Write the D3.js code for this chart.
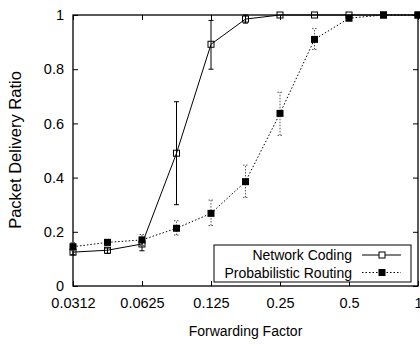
<!DOCTYPE html>
<html>
<head>
<meta charset="utf-8">
<script src="https://cdn.jsdelivr.net/npm/d3@7"></script>
<style>
  body { margin: 0; background: #fff; }
  text { font-family: "Liberation Sans", Arial, sans-serif; }
</style>
</head>
<body>
<div id="vis"></div>
<script>
// forwarding factors, 2^(-5 + k/2)
let factors = [0.03125, 0.0442, 0.0625, 0.0884, 0.125, 0.1768, 0.25, 0.3536, 0.5, 0.7071, 1];
let xTicks = [0.03125, 0.0625, 0.125, 0.25, 0.5, 1];
let xTickLabels = ["0.0312", "0.0625", "0.125", "0.25", "0.5", "1"];
let yTicks = [0, 0.2, 0.4, 0.6, 0.8, 1];

let ncValues = [0.125, 0.132, 0.155, 0.49, 0.892, 0.985, 1, 1, 1, 1, 1];
let ncLow    = [0.115, 0.12, 0.13, 0.30, 0.80, 0.97, 1, 1, 1, 1, 1];
let ncHigh   = [0.135, 0.14, 0.18, 0.68, 0.98, 1, 1, 1, 1, 1, 1];

let prValues = [0.145, 0.161, 0.17, 0.213, 0.268, 0.385, 0.637, 0.91, 0.988, 1, 1];
let prLow    = [0.13, 0.15, 0.15, 0.188, 0.223, 0.327, 0.556, 0.873, 0.98, 1, 1];
let prHigh   = [0.16, 0.172, 0.19, 0.241, 0.317, 0.446, 0.715, 0.95, 1, 1, 1];

let margin = { top: 15, left: 73, right: 2, bottom: 62 },
  W = 420, H = 348,
  width = W - margin.left - margin.right,
  height = H - margin.top - margin.bottom;

let svg = d3.select('#vis')
  .append('svg')
  .attr('width', W)
  .attr('height', H);

let g = svg.append('g')
  .attr('transform', `translate(${margin.left},${margin.top})`);

const x = d3.scaleLog().base(2)
  .domain([0.03125, 1])
  .range([0, width]);

const y = d3.scaleLinear()
  .domain([0, 1])
  .range([height, 0]);

// axes with inward ticks, mirrored on top and right
g.append('g')
  .attr('transform', `translate(0,${height})`)
  .call(d3.axisBottom(x).tickValues(xTicks).tickSizeInner(-5).tickSizeOuter(0)
    .tickFormat((d, i) => xTickLabels[i]).tickPadding(12));
g.append('g')
  .call(d3.axisTop(x).tickValues(xTicks).tickSizeInner(-5).tickSizeOuter(0).tickFormat(''));
g.append('g')
  .call(d3.axisLeft(y).tickValues(yTicks).tickSizeInner(-5).tickSizeOuter(0)
    .tickFormat(d3.format('~g')).tickPadding(9));
g.append('g')
  .attr('transform', `translate(${width},0)`)
  .call(d3.axisRight(y).tickValues(yTicks).tickSizeInner(-5).tickSizeOuter(0).tickFormat(''));

g.selectAll('.domain').remove();
g.selectAll('.tick line').attr('stroke', '#000');
g.selectAll('.tick text').style('font-size', '14.5px').attr('fill', '#000');

// border box
g.append('rect')
  .attr('x', 0).attr('y', 0)
  .attr('width', width).attr('height', height)
  .attr('fill', 'none')
  .attr('stroke', '#000')
  .attr('stroke-width', 1.3);

function drawSeries(vals, lo, hi, dash, filled) {
  let pts = factors.map((f, i) => ({ f: f, v: vals[i], lo: lo[i], hi: hi[i] }));
  let eb = g.append('g')
    .attr('stroke', dash ? '#555' : '#000')
    .attr('stroke-width', 1)
    .attr('stroke-dasharray', dash ? '1.5,1.5' : null);
  pts.filter(p => p.hi - p.lo > 0.001).forEach(p => {
    let cx = x(p.f);
    eb.append('line').attr('x1', cx).attr('x2', cx).attr('y1', y(p.lo)).attr('y2', y(p.hi));
    eb.append('line').attr('x1', cx - 2.5).attr('x2', cx + 2.5).attr('y1', y(p.lo)).attr('y2', y(p.lo));
    eb.append('line').attr('x1', cx - 2.5).attr('x2', cx + 2.5).attr('y1', y(p.hi)).attr('y2', y(p.hi));
  });

  g.append('path')
    .datum(pts)
    .attr('fill', 'none')
    .attr('stroke', '#000')
    .attr('stroke-width', 1)
    .attr('stroke-dasharray', dash ? '1.5,2' : null)
    .attr('d', d3.line().x(d => x(d.f)).y(d => y(d.v)));

  let s = filled ? 7 : 6;
  g.selectAll(null)
    .data(pts)
    .join('rect')
    .attr('x', d => x(d.f) - s / 2)
    .attr('y', d => y(d.v) - s / 2)
    .attr('width', s).attr('height', s)
    .attr('fill', filled ? '#000' : 'none')
    .attr('stroke', filled ? 'none' : '#000')
    .attr('stroke-width', 1);
}

drawSeries(ncValues, ncLow, ncHigh, false, false);
drawSeries(prValues, prLow, prHigh, true, true);

// legend
let lg = svg.append('g');
lg.append('rect')
  .attr('x', 214).attr('y', 245)
  .attr('width', 197).attr('height', 37)
  .attr('fill', '#fff')
  .attr('stroke', '#000')
  .attr('stroke-width', 1);

lg.append('text').attr('x', 352).attr('y', 260).attr('text-anchor', 'end')
  .style('font-size', '14px').text('Network Coding');
lg.append('line').attr('x1', 362).attr('x2', 401).attr('y1', 255).attr('y2', 255)
  .attr('stroke', '#000');
lg.append('rect').attr('x', 379).attr('y', 252).attr('width', 6).attr('height', 6)
  .attr('fill', '#fff').attr('stroke', '#000');

lg.append('text').attr('x', 352).attr('y', 277.5).attr('text-anchor', 'end')
  .style('font-size', '14px').text('Probabilistic Routing');
lg.append('line').attr('x1', 362).attr('x2', 401).attr('y1', 272.5).attr('y2', 272.5)
  .attr('stroke', '#000').attr('stroke-dasharray', '1.5,2');
lg.append('rect').attr('x', 378.5).attr('y', 269).attr('width', 7).attr('height', 7)
  .attr('fill', '#000');

// axis labels
svg.append('text')
  .attr('x', margin.left + width / 2)
  .attr('y', 336)
  .attr('text-anchor', 'middle')
  .style('font-size', '14px')
  .text('Forwarding Factor');

svg.append('text')
  .attr('transform', `translate(21,150) rotate(-90)`)
  .attr('text-anchor', 'middle')
  .style('font-size', '16.5px')
  .text('Packet Delivery Ratio');
</script>
</body>
</html>
